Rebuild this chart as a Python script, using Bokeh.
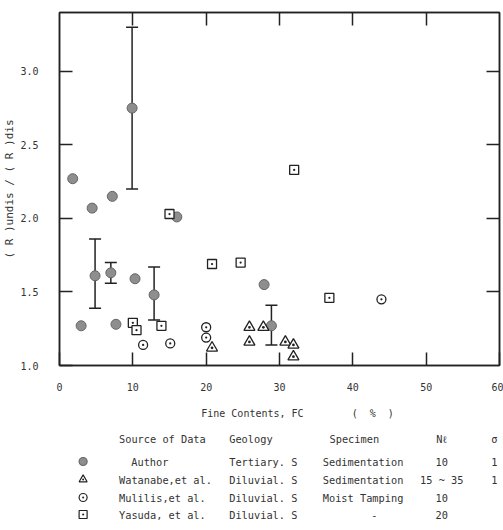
from bokeh.plotting import figure
from bokeh.models import (LinearAxis, FixedTicker, Range1d, Whisker,
                          TeeHead, ColumnDataSource)
from bokeh.layouts import column
from bokeh.core.properties import value
from bokeh.embed import file_html
from bokeh.resources import INLINE

# ---------------- data ----------------
author_x = [1.8, 4.45, 7.2, 9.9, 16.0, 4.85, 7.0, 10.3, 12.9, 2.95, 7.7, 27.9, 28.9]
author_y = [2.27, 2.07, 2.15, 2.75, 2.01, 1.61, 1.63, 1.59, 1.48, 1.27, 1.28, 1.55, 1.27]

err_x = [9.9, 4.85, 7.0, 12.9, 28.9]
err_lo = [2.20, 1.39, 1.56, 1.31, 1.14]
err_hi = [3.30, 1.86, 1.70, 1.67, 1.41]

watanabe_x = [20.8, 25.9, 25.9, 27.8, 30.8, 31.9, 31.9]
watanabe_y = [1.12, 1.26, 1.16, 1.26, 1.16, 1.14, 1.06]

mulilis_x = [11.4, 15.1, 20.0, 20.0, 43.9]
mulilis_y = [1.14, 1.15, 1.26, 1.19, 1.45]

yasuda_x = [15.0, 10.0, 10.5, 13.9, 20.8, 24.7, 32.0, 36.8]
yasuda_y = [2.03, 1.29, 1.24, 1.27, 1.69, 1.70, 2.33, 1.46]

xticks = [0, 10, 20, 30, 40, 50, 60]
xtick_labels = ["0", "10", "20", "30", "40", "50", "60"]
yticks = [1.0, 1.5, 2.0, 2.5, 3.0]
ytick_labels = ["1.0", "1.5", "2.0", "2.5", "3.0"]

NB = "\u00a0"
x_title = "Fine Contents, FC"
x_unit = "(" + NB * 2 + "%" + NB * 2 + ")"
y_title = "( R )undis / ( R )dis"

headers = ["Source of Data", "Geology", "Specimen", "N\u2113", "\u03c3"]
sources = ["Author", "Watanabe,et al.", "Mulilis,et al.", "Yasuda, et al."]
geology = ["Tertiary. S", "Diluvial. S", "Diluvial. S", "Diluvial. S"]
specimen = ["Sedimentation", "Sedimentation", "Moist Tamping", "-"]
n_cycles = ["10", "15 ~ 35", "10", "20"]
sigma = ["1", "1", "", ""]

# ---------------- style ----------------
FONT = "DejaVu Sans Mono"
INK = "#222222"
TXT = "#333333"

W = 503
H1 = 425
H2 = 105

p = figure(width=W, height=H1, x_range=Range1d(0, 60), y_range=Range1d(1.0, 3.4),
           output_backend="svg", toolbar_location=None,
           min_border_left=59, min_border_right=4, min_border_top=12,
           min_border_bottom=60, background_fill_color="white",
           border_fill_color="white")
p.grid.visible = False
p.outline_line_color = INK
p.outline_line_width = 1.5


def style(ax, labels=True):
    ax.major_tick_in = 13
    ax.major_tick_out = 0
    ax.minor_tick_line_color = None
    ax.axis_line_width = 1.5
    ax.axis_line_color = INK
    ax.major_tick_line_width = 1.5
    ax.major_tick_line_color = INK
    ax.major_label_text_font = FONT
    ax.major_label_text_font_size = "10px"
    ax.major_label_text_color = TXT if labels else None
    ax.axis_label_text_font = FONT
    ax.axis_label_text_font_style = "normal"
    ax.axis_label_text_color = TXT
    if not labels:
        ax.major_label_text_font_size = "1px"
        ax.major_label_standoff = 0


p.xaxis.ticker = FixedTicker(ticks=xticks)
p.xaxis.major_label_overrides = dict(zip(xticks, xtick_labels))
p.yaxis.ticker = FixedTicker(ticks=yticks)
p.yaxis.major_label_overrides = dict(zip(yticks, ytick_labels))
style(p.xaxis[0])
style(p.yaxis[0])
p.xaxis.major_label_standoff = 17
p.yaxis.major_label_standoff = 21

p.xaxis.axis_label = NB * 6 + x_title + NB * 8 + x_unit
p.xaxis.axis_label_text_font_size = "10px"
p.xaxis.axis_label_standoff = 14
p.yaxis.axis_label = y_title
p.yaxis.axis_label_text_font_size = "11px"
p.yaxis.axis_label_standoff = 1

top = LinearAxis(ticker=FixedTicker(ticks=xticks[1:-1]))
style(top, labels=False)
p.add_layout(top, "above")
right = LinearAxis(ticker=FixedTicker(ticks=yticks[1:]))
style(right, labels=False)
p.add_layout(right, "right")

# error bars
esrc = ColumnDataSource(dict(x=err_x, lo=err_lo, hi=err_hi))
wh = Whisker(base="x", lower="lo", upper="hi", source=esrc, dimension="height",
             line_width=1.5, line_color=INK, level="underlay",
             upper_head=TeeHead(size=12, line_width=1.5, line_color=INK),
             lower_head=TeeHead(size=12, line_width=1.5, line_color=INK))
p.add_layout(wh)

p.scatter(author_x, author_y, marker="circle", size=10, fill_color="#8e8e8e",
          line_color="#666666", line_width=1)
p.scatter(watanabe_x, watanabe_y, marker="triangle_dot", size=11,
          fill_color="white", line_color=INK, line_width=1.3)
p.scatter(mulilis_x, mulilis_y, marker="circle_dot", size=9,
          fill_color="white", line_color=INK, line_width=1.3)
p.scatter(yasuda_x, yasuda_y, marker="square_dot", size=9,
          fill_color="white", line_color=INK, line_width=1.3)

# ---------------- legend table ----------------
q = figure(width=W, height=H2, x_range=Range1d(0, W), y_range=Range1d(H2, 0),
           output_backend="svg", toolbar_location=None, min_border=0)
q.axis.visible = False
q.grid.visible = False
q.outline_line_color = None

OY = H1  # legend figure starts below the plot
head_y = 438 - OY
row_y = [r - OY for r in (461, 479, 497, 514)]
FS = "10.3px"

hx = [68, 194, 337, 437, 497]
halign = ["left", "left", "center", "center", "center"]
for t, x, a in zip(headers, hx, halign):
    q.text(x=[x], y=[head_y], text=[t], text_font=value(FONT),
           text_font_size=FS, text_color=TXT, text_align=a,
           text_baseline="middle")

src_x = [82, 68, 68, 68]
q.text(x=src_x, y=row_y, text=sources, text_font=value(FONT),
       text_font_size=FS, text_color=TXT, text_align="left",
       text_baseline="middle")
q.text(x=[194] * 4, y=row_y, text=geology, text_font=value(FONT),
       text_font_size=FS, text_color=TXT, text_align="left",
       text_baseline="middle")
spec_x = [347, 347, 347, 360]
q.text(x=spec_x, y=row_y, text=specimen, text_font=value(FONT),
       text_font_size=FS, text_color=TXT, text_align="center",
       text_baseline="middle")
q.text(x=[437] * 4, y=row_y, text=n_cycles, text_font=value(FONT),
       text_font_size=FS, text_color=TXT, text_align="center",
       text_baseline="middle")
q.text(x=[497] * 4, y=row_y, text=sigma, text_font=value(FONT),
       text_font_size=FS, text_color=TXT, text_align="center",
       text_baseline="middle")

markers = ["circle", "triangle_dot", "circle_dot", "square_dot"]
mfill = ["#8e8e8e", "white", "white", "white"]
mline = ["#666666", INK, INK, INK]
q.scatter(x=[27] * 4, y=row_y, marker=markers, size=8, fill_color=mfill,
          line_color=mline, line_width=1.2)

layout = column(p, q, spacing=0)
open("out.html", "w").write(file_html(layout, INLINE))
